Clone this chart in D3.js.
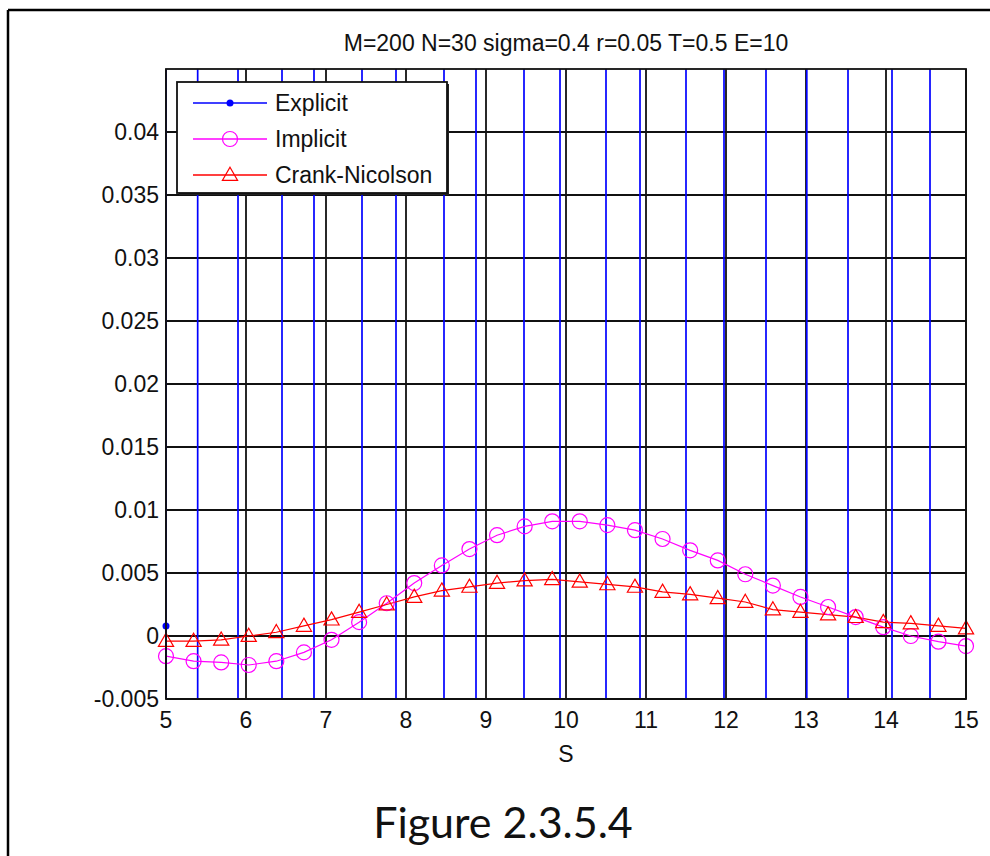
<!DOCTYPE html>
<html><head><meta charset="utf-8">
<script src="https://cdn.jsdelivr.net/npm/d3@7/dist/d3.min.js"></script>
<style>body{margin:0;background:#fff}svg{display:block}</style>
</head><body><svg id="c" width="990" height="856"></svg>
<script>
const title = "M=200 N=30 sigma=0.4 r=0.05 T=0.5 E=10";
const caption = "Figure 2.3.5.4";
const xLabel = "S";
const sValues = [5, 5.345, 5.690, 6.034, 6.379, 6.724, 7.069, 7.414, 7.759, 8.103,
  8.448, 8.793, 9.138, 9.483, 9.828, 10.172, 10.517, 10.862, 11.207, 11.552,
  11.897, 12.241, 12.586, 12.931, 13.276, 13.621, 13.966, 14.310, 14.655, 15];
const implicitV = [-0.0016, -0.0020, -0.0021, -0.0023, -0.0020, -0.0013, -0.0003, 0.0011, 0.0026, 0.0042,
  0.0056, 0.0069, 0.0080, 0.0087, 0.0091, 0.0091, 0.0088, 0.0084, 0.0077, 0.0068,
  0.0060, 0.0049, 0.0040, 0.0031, 0.0023, 0.0015, 0.0007, 0.0000, -0.00045, -0.0008];
const crankV = [-0.0004, -0.0004, -0.0003, 0.0000, 0.0003, 0.0008, 0.0013, 0.0019, 0.0025, 0.0031,
  0.0036, 0.0039, 0.0042, 0.0044, 0.0045, 0.0043, 0.0041, 0.0039, 0.0035, 0.0033,
  0.0030, 0.0027, 0.0021, 0.0019, 0.0017, 0.0015, 0.0011, 0.0010, 0.0008, 0.0006];
// Explicit scheme blows up: first value visible, then the line swings through the plot at these S positions
const explicitFirst = 0.0008;
const explicitCross = [5.00, 5.396, 5.90, 6.45, 6.85, 7.45, 7.875, 8.475, 8.875, 9.475,
  9.925, 10.50, 10.925, 11.50, 11.975, 12.50, 13.01, 13.525, 14.075, 14.55];
const explicitHuge = 1e3;
const xTicks = [5, 6, 7, 8, 9, 10, 11, 12, 13, 14, 15];
const yTicks = [-0.005, 0, 0.005, 0.01, 0.015, 0.02, 0.025, 0.03, 0.035, 0.04];
const yTickLabels = ["-0.005", "0", "0.005", "0.01", "0.015", "0.02", "0.025", "0.03", "0.035", "0.04"];
const seriesNames = ["Explicit", "Implicit", "Crank-Nicolson"];

const svg = d3.select("#c");
const L = 166, R = 966, T = 69, B = 699;
const x = d3.scaleLinear().domain([5, 15]).range([L, R]);
const y = d3.scaleLinear().domain([-0.005, 0.045]).range([B, T]);
const FONT = "'Liberation Sans', Arial, sans-serif";
const FS = 23;

// outer frame
svg.append("line").attr("x1", 8).attr("y1", 10).attr("x2", 990).attr("y2", 10).attr("stroke", "#000").attr("stroke-width", 2.5);
svg.append("line").attr("x1", 8).attr("y1", 10).attr("x2", 8).attr("y2", 856).attr("stroke", "#000").attr("stroke-width", 2.5);

svg.append("defs").append("clipPath").attr("id", "clip")
  .append("rect").attr("x", L).attr("y", T).attr("width", R - L).attr("height", B - T);

// grid
const g = svg.append("g");
g.selectAll("line.gx").data(xTicks).join("line")
  .attr("x1", d => x(d)).attr("x2", d => x(d)).attr("y1", T).attr("y2", B)
  .attr("stroke", "#111").attr("stroke-width", 1.8);
g.selectAll("line.gy").data(yTicks).join("line")
  .attr("y1", d => y(d)).attr("y2", d => y(d)).attr("x1", L).attr("x2", R)
  .attr("stroke", "#111").attr("stroke-width", 1.8);

const plot = svg.append("g").attr("clip-path", "url(#clip)");
const line = d3.line().x(d => x(d[0])).y(d => y(d[1]));

// Explicit
plot.selectAll("path.ex").data(explicitCross).join("path")
  .attr("d", c => line([[c, -explicitHuge], [c, explicitHuge]]))
  .attr("stroke", "#0000ff").attr("stroke-width", 1.7).attr("fill", "none");
svg.append("circle").attr("cx", x(sValues[0])).attr("cy", y(explicitFirst)).attr("r", 3.5).attr("fill", "#0000ff");

// Implicit
const imp = sValues.map((s, i) => [s, implicitV[i]]);
plot.append("path").attr("d", line(imp)).attr("fill", "none").attr("stroke", "#ff00ff").attr("stroke-width", 1.2);
svg.selectAll("circle.im").data(imp).join("circle").attr("class", "im")
  .attr("cx", d => x(d[0])).attr("cy", d => y(d[1])).attr("r", 7.5)
  .attr("fill", "none").attr("stroke", "#ff00ff").attr("stroke-width", 1.2);

// Crank-Nicolson
const cn = sValues.map((s, i) => [s, crankV[i]]);
const tri = d3.symbol().type(d3.symbolTriangle).size(100);
plot.append("path").attr("d", line(cn)).attr("fill", "none").attr("stroke", "#ff0000").attr("stroke-width", 1.2);
svg.selectAll("path.cn").data(cn).join("path").attr("class", "cn")
  .attr("d", tri).attr("transform", d => `translate(${x(d[0])},${y(d[1]) + 1})`)
  .attr("fill", "none").attr("stroke", "#ff0000").attr("stroke-width", 1.2);

// axes box
svg.append("rect").attr("x", L).attr("y", T).attr("width", R - L).attr("height", B - T)
  .attr("fill", "none").attr("stroke", "#111").attr("stroke-width", 1.8);

// tick labels
svg.selectAll("text.xt").data(xTicks).join("text")
  .attr("x", d => x(d)).attr("y", 728).attr("text-anchor", "middle")
  .attr("font-family", FONT).attr("font-size", FS).attr("fill", "#111").text(d => d);
svg.selectAll("text.yt").data(yTicks).join("text")
  .attr("x", 159).attr("y", d => y(d) + 8).attr("text-anchor", "end")
  .attr("font-family", FONT).attr("font-size", FS).attr("fill", "#111").text((d, i) => yTickLabels[i]);
svg.append("text").attr("x", (L + R) / 2).attr("y", 762).attr("text-anchor", "middle")
  .attr("font-family", FONT).attr("font-size", FS).attr("fill", "#111").text(xLabel);
svg.append("text").attr("x", (L + R) / 2).attr("y", 51).attr("text-anchor", "middle")
  .attr("font-family", FONT).attr("font-size", FS).attr("fill", "#111").text(title);

// legend
const lg = svg.append("g");
lg.append("rect").attr("x", 179).attr("y", 84).attr("width", 270).attr("height", 111).attr("fill", "#222");
lg.append("rect").attr("x", 177).attr("y", 82).attr("width", 270).attr("height", 111)
  .attr("fill", "#fff").attr("stroke", "#111").attr("stroke-width", 1.8);
const rows = [103, 139, 175];
const cols = ["#0000ff", "#ff00ff", "#ff0000"];
seriesNames.forEach((n, i) => {
  lg.append("line").attr("x1", 193).attr("x2", 267).attr("y1", rows[i]).attr("y2", rows[i])
    .attr("stroke", cols[i]).attr("stroke-width", 1.3);
  lg.append("text").attr("x", 275).attr("y", rows[i] + 8).attr("font-family", FONT)
    .attr("font-size", FS).attr("fill", "#111").text(n);
});
lg.append("circle").attr("cx", 230).attr("cy", rows[0]).attr("r", 3.5).attr("fill", "#0000ff");
lg.append("circle").attr("cx", 230).attr("cy", rows[1]).attr("r", 7.5).attr("fill", "none").attr("stroke", "#ff00ff").attr("stroke-width", 1.2);
lg.append("path").attr("d", tri).attr("transform", `translate(230,${rows[2] + 1})`)
  .attr("fill", "none").attr("stroke", "#ff0000").attr("stroke-width", 1.2);

// caption
svg.append("text").attr("x", 503).attr("y", 838).attr("text-anchor", "middle")
  .attr("font-family", "Lato, 'Open Sans', sans-serif").attr("font-size", 43).attr("fill", "#111").text(caption);
</script></body></html>
